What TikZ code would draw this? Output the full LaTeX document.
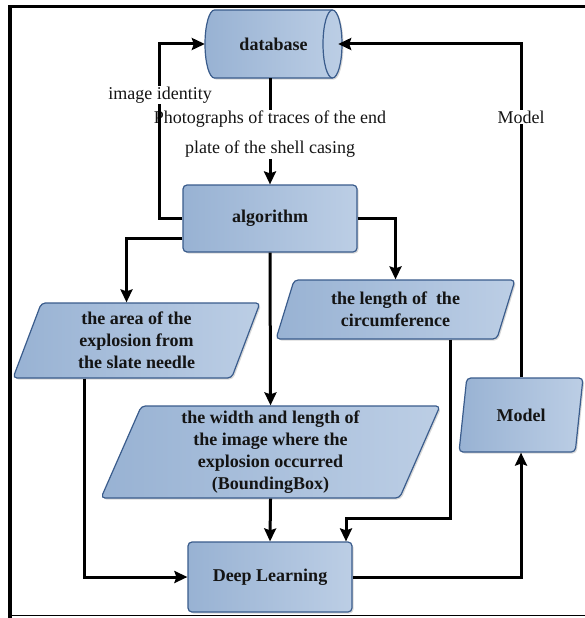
\documentclass[tikz,border=0pt]{standalone}
\usepackage{fontspec}
\setmainfont{Liberation Serif}
\usetikzlibrary{shapes.geometric, arrows.meta, shadows}
\definecolor{fillL}{RGB}{152,178,211}
\definecolor{fillR}{RGB}{188,206,229}
\definecolor{edge}{RGB}{58,92,140}
\definecolor{txt}{RGB}{20,20,20}
\begin{document}
\begin{tikzpicture}[x=1pt,y=-1pt,
  fillstyle/.style={draw=edge, line width=1.2pt, left color=fillL, right color=fillR,
    drop shadow={opacity=0.3, shadow xshift=1.5pt, shadow yshift=-1.5pt}},
  boldtext/.style={font=\fontsize{18}{22}\selectfont\bfseries, text=txt, align=center},
  box/.style={fillstyle, boldtext, rounded corners=4pt, inner sep=2pt},
  para/.style={box, trapezium, trapezium left angle=65, trapezium right angle=115,
    trapezium stretches body},
  flow/.style={line width=3pt, -{Stealth[length=13pt,width=12pt,inset=2pt]}},
  lbl/.style={fill=white, font=\fontsize{18}{30}\selectfont, text=txt, align=center, inner sep=1pt}
]
\useasboundingbox (0,0) rectangle (585,618);
\fill[white] (0,0) rectangle (585,618);

% database cylinder (lying on its side)
\path[fillstyle] (214.5,10) -- (332.5,10)
  arc[start angle=90, end angle=-90, x radius=9.5pt, y radius=34pt]
  -- (214.5,78)
  arc[start angle=270, end angle=90, x radius=9.5pt, y radius=34pt] -- cycle;
\draw[edge, line width=1.2pt] (332.5,10)
  arc[start angle=90, end angle=270, x radius=9.5pt, y radius=34pt];
\node[boldtext, minimum width=137pt, minimum height=68pt, inner sep=0pt] (db) at (273.5,44) {database};

\node[box, minimum width=174pt, minimum height=67pt] (alg) at (270,218.5) {algorithm};
\node[para, minimum width=247pt, minimum height=75pt] (area) at (136.5,340.5)
  {the area of the\\explosion from\\the slate needle};
\node[para, minimum width=239pt, minimum height=59pt] (len) at (395.5,309.5)
  {the length of~ the\\circumference};
\node[para, minimum width=339pt, minimum height=92pt] (wid) at (270.5,452)
  {the width and length of\\the image where the\\explosion occurred\\(BoundingBox)};
\node[para, minimum width=124pt, minimum height=74pt] (model) at (521,415) {Model};
\node[box, minimum width=164pt, minimum height=70pt] (dl) at (270,577) {Deep Learning};

\draw[flow] (db.south -| alg.north) -- (alg.north)
  node[lbl, midway, yshift=-3pt] (photo) {Photographs of traces of the end\\plate of the shell casing};
\draw[flow] (alg.west) -- ++(-23,0) |- (db.west);
\node[lbl] (idlbl) at (160,95) {image identity};
\draw[flow] ([yshift=-19.5pt]alg.west) -| ([xshift=-10pt]area.north);
\draw[flow] (alg.east) -| (len.north);
\draw[flow] (alg.south) -- (wid.north);
\draw[flow] (wid.south) -- (dl.north);
\draw[flow] ([xshift=54.5pt]len.south) |- ([xshift=76pt,yshift=23pt]dl.north) -- ([xshift=76pt]dl.north);
\draw[flow] ([xshift=-52.5pt]area.south) |- (dl.west);
\draw[flow] (dl.east) -| (model.south);
\draw[flow] (model.north) |- ([xshift=-4pt]db.east);
\node[lbl] (mlbl) at (521,117) {Model};

\draw[line width=4pt] (10,618) -- (10,6.5);
\draw[line width=3.5pt] (8,6.5) -- (585,6.5);
\draw[line width=1.8pt] (8,615.5) -- (585,615.5);
\end{tikzpicture}
\end{document}
